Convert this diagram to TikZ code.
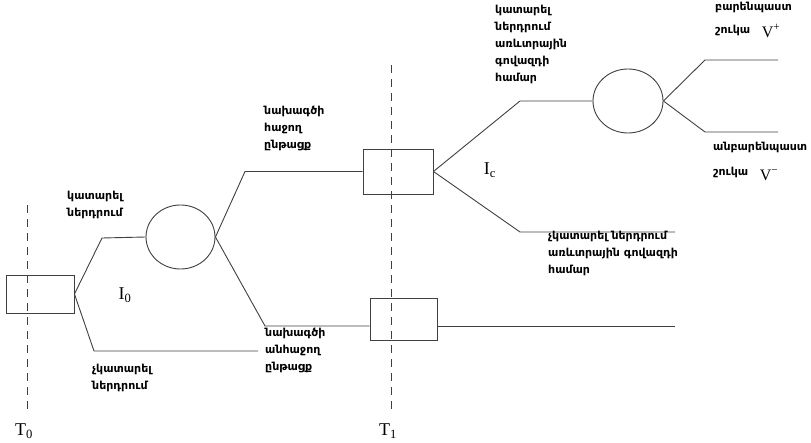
\documentclass[tikz,border=0pt]{standalone}
\usepackage{fontspec}
\setmainfont{Liberation Serif}
\newfontfamily\armfont{DejaVu Sans}
\usetikzlibrary{shapes.geometric}
\definecolor{linec}{HTML}{404040}
\tikzset{
  box/.style={draw=linec, rectangle, line width=0.9pt, inner sep=0pt, minimum width=70pt, minimum height=42pt},
  chance/.style={draw=linec, ellipse, line width=0.9pt, inner sep=0pt, minimum width=69pt, minimum height=64pt},
  conn/.style={draw=linec, line width=0.9pt},
  timeline/.style={draw=linec, line width=0.8pt, dash pattern=on 8pt off 6pt},
  lbl/.style={font=\armfont\bfseries\fontsize{11}{17}\selectfont, align=left, anchor=north west, inner sep=0pt},
  sym/.style={font=\fontsize{18}{18}\selectfont, inner sep=0pt},
}
\begin{document}
\begin{tikzpicture}[x=1pt, y=-1pt]
\useasboundingbox (0,0) rectangle (811,443);
% time lines
\coordinate (t0top) at (27,205);
\coordinate (t0bot) at (27,410);
\coordinate (t1top) at (391,65);
\coordinate (t1bot) at (391,410);
\draw[timeline] (t0top) -- (t0bot);
\draw[timeline] (t1top) -- (t1bot);
\node[sym] (T0) at (24,431) {T\textsubscript{0}};
\node[sym] (T1) at (388,431) {T\textsubscript{1}};
% nodes
\node[box, minimum width=68pt, minimum height=38pt] (b0) at (40,294) {};
\node[chance] (c1) at (180.5,237) {};
\node[box, minimum height=45pt] (b1) at (398,171.5) {};
\node[box, minimum width=67pt, minimum height=42pt] (b2) at (403.5,319) {};
\node[chance, minimum width=70pt] (c2) at (628,101) {};
% connector bend points
\coordinate (p1) at (102,238);
\coordinate (p2) at (94,351);
\coordinate (p2e) at (258,351);
\coordinate (p3) at (245,171.5);
\coordinate (p4) at (265,326);
\coordinate (p5) at (520,101);
\coordinate (p6) at (520,232);
\coordinate (p6e) at (675,232);
\coordinate (p7e) at (675,326);
\coordinate (p8) at (705,60);
\coordinate (p8e) at (778,60);
\coordinate (p9) at (705,132);
\coordinate (p9e) at (778,132);
% connectors
\draw[conn] (b0.east) -- (p1) -- (c1.west);
\draw[conn] (b0.east) -- (p2) -- (p2e);
\draw[conn] (c1.east) -- (p3) -- (b1.west);
\draw[conn] (c1.east) -- (p4) -- (b2.west |- p4);
\draw[conn] (b2.east |- p4) -- (p7e);
\draw[conn] (b1.east) -- (p5) -- (c2.west);
\draw[conn] (b1.east) -- (p6) -- (p6e);
\draw[conn] (c2.east) -- (p8) -- (p8e);
\draw[conn] (c2.east) -- (p9) -- (p9e);
% labels
\node[sym] (I0) at (125,295) {I\textsubscript{0}};
\node[sym] (Ic) at (490,170) {I\textsubscript{c}};
\node[lbl] (l1) at (495,5) {կատարել\\ներդրում\\առևտրային\\գովազդի\\համար};
\node[lbl] (l2) at (715,2) {բարենպաստ\\[5.5pt]շուկա};
\node[sym, font=\fontsize{16}{16}\selectfont] (vp) at (771,31) {V\textsuperscript{+}};
\node[lbl] (l3) at (713,142) {անբարենպաստ\\[8pt]շուկա};
\node[sym, font=\fontsize{16}{16}\selectfont] (vm) at (769,175) {V\textsuperscript{−}};
\node[lbl] (l4) at (548,231) {չկատարել ներդրում\\առևտրային գովազդի\\համար};
\node[lbl] (l5) at (264,106) {նախագծի\\հաջող\\ընթացք};
\node[lbl] (l6) at (67,191) {կատարել\\ներդրում};
\node[lbl] (l7) at (265,328) {նախագծի\\անհաջող\\ընթացք};
\node[lbl] (l8) at (92,364) {չկատարել\\ներդրում};
\end{tikzpicture}
\end{document}
